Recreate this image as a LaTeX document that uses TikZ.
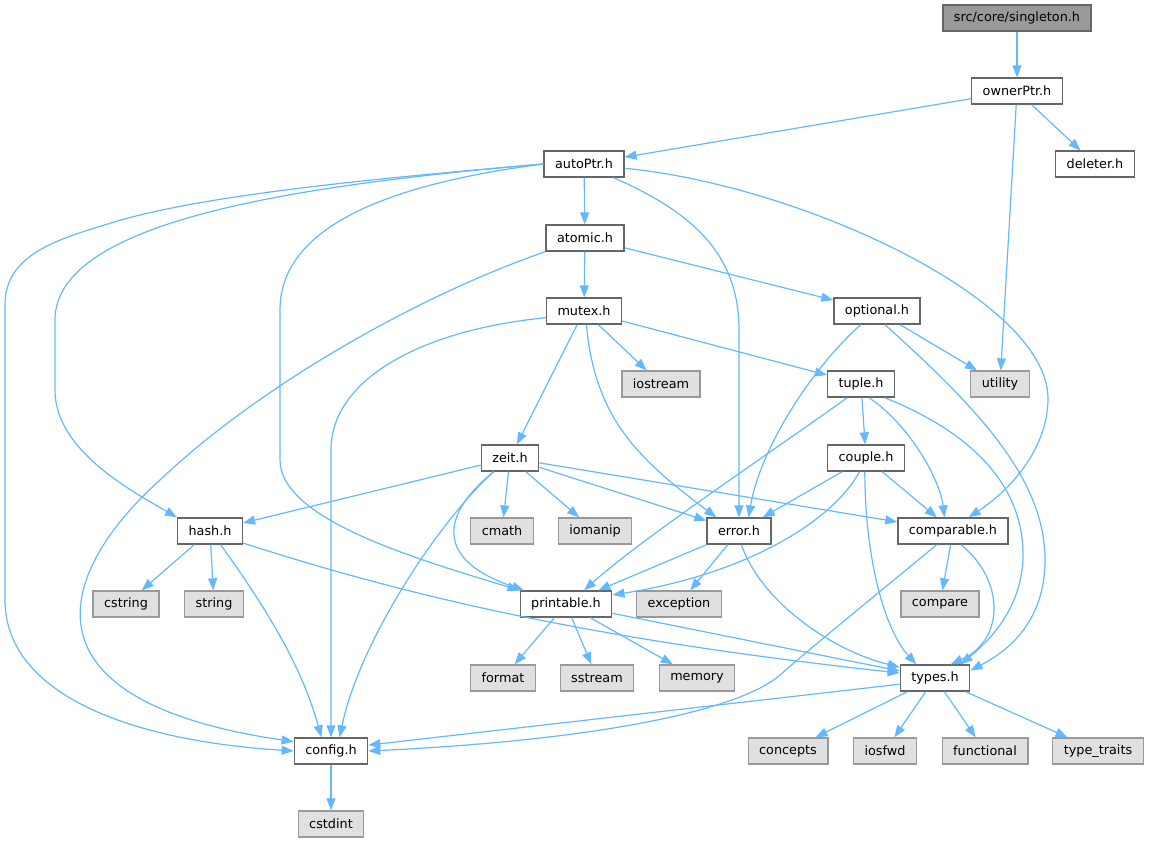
\documentclass[tikz,border=0pt]{standalone}
\usepackage{fontspec}
\setmainfont{DejaVu Sans}
\usetikzlibrary{arrows.meta}
\definecolor{edgeblue}{HTML}{63B8FF}
\definecolor{boxline}{HTML}{666666}
\definecolor{sysline}{HTML}{999999}
\definecolor{sysfill}{HTML}{E0E0E0}
\definecolor{rootfill}{HTML}{999999}

\begin{document}
\begin{tikzpicture}[x=1pt,y=-1pt,
    file/.style={draw=boxline,fill=white,line width=1.3pt,minimum height=26pt,
      inner xsep=11pt,inner ysep=0pt,font=\fontsize{12.8}{15}\selectfont},
    sys/.style={file,draw=sysline,fill=sysfill},
    root/.style={file,fill=rootfill},
    dep/.style={draw=edgeblue,line width=1.2pt,-{Triangle[length=12pt,width=9pt]}}]
		\useasboundingbox (0,0) rectangle (1149,843);
		% project headers
		\node[root] (singleton) at (1017,18) {src/core/singleton.h};
		\node[file] (ownerPtr) at (1017,91) {ownerPtr.h};
		\node[file] (autoPtr) at (584,164) {autoPtr.h};
		\node[file] (deleter) at (1095,164) {deleter.h};
		\node[file] (atomic) at (585,238) {atomic.h};
		\node[file] (mutex) at (584,311) {mutex.h};
		\node[file] (optional) at (877,311) {optional.h};
		\node[file] (tuple) at (861,384) {tuple.h};
		\node[file] (zeit) at (510,458) {zeit.h};
		\node[file] (couple) at (866,458) {couple.h};
		\node[file] (hash) at (210,531) {hash.h};
		\node[file] (error) at (739,531) {error.h};
		\node[file] (comparable) at (953,531) {comparable.h};
		\node[file] (printable) at (566,604) {printable.h};
		\node[file] (types) at (935,678) {types.h};
		\node[file] (config) at (331,751) {config.h};
		% standard headers
		\foreach \n/\x/\y in {iostream/661/384,utility/1000/384,cmath/502/531,iomanip/595/531,
			cstring/126/604,string/214/604,exception/679/604,compare/940/604,
			format/503/678,sstream/597/678,memory/697/678,
			concepts/788/751,iosfwd/885/751,functional/985/751,cstdint/331/824}
		{\node[sys] (\n) at (\x,\y) {\n};}
		\node[sys] (typetraits) at (1098,751) {type\_traits};
		% straight includes
		\foreach \a/\b in {singleton/ownerPtr,ownerPtr/autoPtr,ownerPtr/deleter,ownerPtr/utility,
			autoPtr/atomic,atomic/mutex,atomic/optional,mutex/iostream,mutex/tuple,mutex/zeit,
			optional/utility,tuple/couple,zeit/hash,zeit/cmath,zeit/iomanip,zeit/error,
			zeit/comparable,couple/error,couple/comparable,hash/cstring,hash/string,
			error/printable,error/exception,comparable/compare,printable/format,
			printable/sstream,printable/memory,printable/types,types/concepts,types/iosfwd,
			types/functional,types/typetraits,config/cstdint}
		{\draw[dep] (\a) -- (\b);}
		% routed includes
		\draw[dep] (autoPtr.west) .. controls (380,178) and (200,195) .. (111,223)
			.. controls (55,240) and (5,255) .. (5,305) -- (5,600)
			.. controls (5,690) and (120,740) .. (config.west);
		\draw[dep] (autoPtr.west) .. controls (300,185) and (55,220) .. (55,320) -- (55,390)
			.. controls (55,450) and (130,490) .. (hash.north west);
		\draw[dep] (autoPtr.west) .. controls (380,185) and (280,230) .. (280,310) -- (280,460)
			.. controls (280,520) and (420,560) .. (printable.north west);
		\draw[dep] (autoPtr.-25) .. controls (700,215) and (739,260) .. (739,330) -- (error.north);
		\draw[dep] (autoPtr.-6) .. controls (800,185) and (1050,300) .. (1048,400)
			.. controls (1047,450) and (1010,490) .. (comparable.41);
		\draw[dep] (atomic.south west) .. controls (420,295) and (260,385) .. (160,480)
			.. controls (60,570) and (10,700) .. (config.166);
		\draw[dep] (mutex.190) .. controls (420,330) and (331,380) .. (331,450) -- (config.north);
		\draw[dep] (mutex.-80) .. controls (595,420) and (640,460) .. (error.149);
		\draw[dep] (optional.-140) .. controls (810,370) and (760,450) .. (error.55);
		\draw[dep] (optional.-60) .. controls (980,410) and (1045,480) .. (1045,560)
			.. controls (1045,620) and (1010,650) .. (types.12);
		\draw[dep] (tuple.-135) .. controls (760,460) and (640,540) .. (printable.37);
		\draw[dep] (tuple.-60) .. controls (910,425) and (940,480) .. (comparable.122);
		\draw[dep] (tuple.-30) .. controls (990,440) and (1025,500) .. (1023,560)
			.. controls (1020,610) and (990,640) .. (types.28);
		\draw[dep] (zeit.-140) .. controls (440,520) and (360,640) .. (config.58);
		\draw[dep] (zeit.-140) .. controls (440,515) and (435,560) .. (printable.162);
		\draw[dep] (couple.-115) .. controls (830,525) and (740,575) .. (printable.11);
		\draw[dep] (couple.-95) .. controls (865,560) and (885,630) .. (types.144);
		\draw[dep] (hash.-52) .. controls (260,600) and (300,660) .. (config.125);
		\draw[dep] (hash.-20) .. controls (420,600) and (600,640) .. (types.172);
		\draw[dep] (error.-80) .. controls (760,600) and (830,650) .. (types.163);
		\draw[dep] (comparable.-60) .. controls (1005,580) and (1005,640) .. (types.41);
		\draw[dep] (comparable.-140) .. controls (870,600) and (820,640) .. (780,675)
			.. controls (740,710) and (600,740) .. (config.east);
		\draw[dep] (types.190) -- (config.9);
\end{tikzpicture}
\end{document}
